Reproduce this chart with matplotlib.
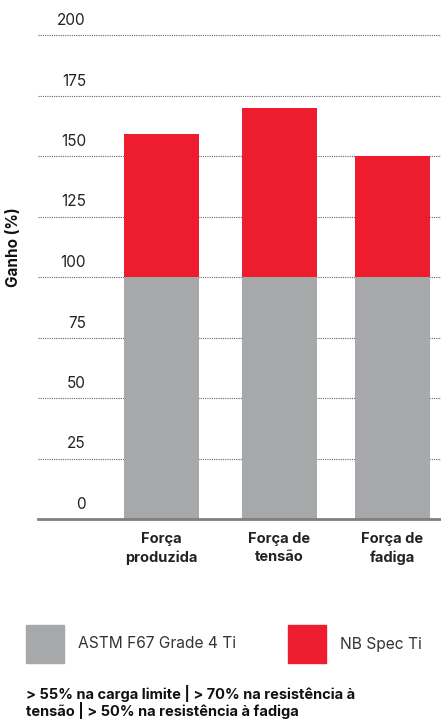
import matplotlib.pyplot as plt
from matplotlib.patches import Rectangle
from matplotlib.transforms import blended_transform_factory

categories = ["Força\nproduzida", "Força de\ntensão", "Força de\nfadiga"]
base_values = [100, 100, 100]
total_values = [159, 170, 150]
yticks = [0, 25, 50, 75, 100, 125, 150, 175, 200]
legend_labels = ["ASTM F67 Grade 4 Ti", "NB Spec Ti"]
footer = "> 55% na carga limite | > 70% na resistência à\ntensão | > 50% na resistência à fadiga"

positions = [0, 1, 1.958]
gray = "#A7A8AA"
red = "#ED1C2E"

plt.rcParams['font.family'] = ['Inter', 'DejaVu Sans']

W, H = 441, 721
fig = plt.figure(figsize=(W / 100, H / 100), dpi=100)
ax = fig.add_axes([38 / W, (H - 519) / H, 403 / W, (519 - 35) / H])

extra = [t - b for t, b in zip(total_values, base_values)]
ax.bar(positions, base_values, width=0.636, color=gray, zorder=3)
ax.bar(positions, extra, bottom=base_values, width=0.636, color=red, zorder=3)

ax.set_xlim(-1.047, 2.369)
ax.set_ylim(0, 200)
ax.hlines(yticks[1:], -1.047, 2.369, colors="#666666", linestyles=(0, (1, 1)),
          linewidth=0.8, zorder=1, clip_on=False)

for s in ["top", "right", "left"]:
    ax.spines[s].set_visible(False)
ax.spines["bottom"].set_color("#808080")
ax.spines["bottom"].set_linewidth(2)
ax.spines["bottom"].set_zorder(4)

ax.set_yticks([])
trans = blended_transform_factory(ax.transAxes, ax.transData)
for v in yticks:
    ax.annotate(str(v), xy=(0.119, v), xycoords=trans, xytext=(0, 7.2),
                textcoords="offset points", ha="right", va="baseline",
                fontsize=11, color="#222222")

ax.set_xticks(positions)
ax.set_xticklabels(categories, fontsize=10.5, fontweight="bold", color="#222222",
                   linespacing=1.4)
ax.tick_params(axis="x", length=0, pad=9)

fig.text(14 / W, 1 - 247 / H, "Ganho (%)", rotation=90, ha="center", va="center",
         fontsize=11, fontweight="bold", color="#111111")

# legend
for x0, c, lab, tx in [(26, gray, legend_labels[0], 78), (288, red, legend_labels[1], 340)]:
    fig.add_artist(Rectangle((x0 / W, 1 - 663 / H), 38 / W, 38 / H,
                             transform=fig.transFigure, color=c))
    fig.text(tx / W, 1 - 644 / H, lab, ha="left", va="center", fontsize=11.2,
             color="#333333")

fig.text(26 / W, 1 - 719 / H, footer, ha="left", va="bottom", fontsize=10.5,
         fontweight="bold", color="#111111", linespacing=1.0)

fig.savefig("out.png", dpi=100)
